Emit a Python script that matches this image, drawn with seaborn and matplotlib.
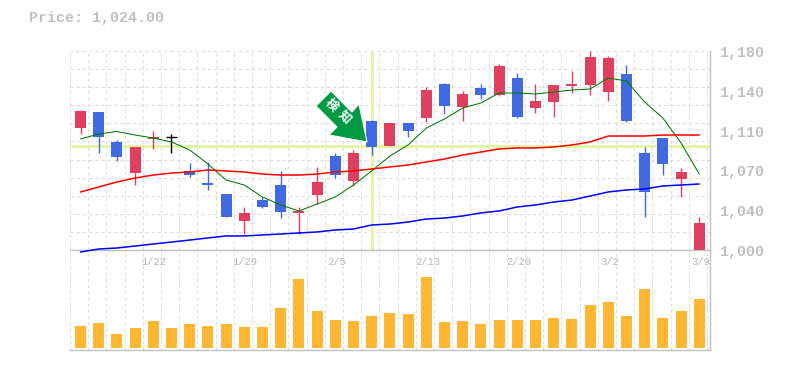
import numpy as np
import pandas as pd
import matplotlib
matplotlib.use('Agg')
import matplotlib.pyplot as plt
import seaborn as sns
from matplotlib.patches import Polygon

# candle values
body_top = [1125.7, 1124.8, 1097.7, 1093.2, 1102.2, 1101.9, 1071.5, 1060.6, 1050.7, 1033.5, 1045.2, 1058.8,
            1035.3, 1061.5, 1085.0, 1087.7, 1116.7, 1114.9, 1114.9, 1144.7, 1150.1, 1141.1, 1146.5, 1166.4,
            1155.6, 1134.8, 1149.2, 1150.1, 1174.6, 1173.7, 1159.2, 1087.7, 1101.3, 1070.6, 1024.0]
body_bot = [1110.3, 1102.2, 1084.1, 1069.6, 1100.4, 1101.3, 1067.8, 1058.8, 1029.8, 1026.2, 1038.9, 1034.4,
            1033.5, 1049.7, 1067.8, 1062.4, 1093.2, 1094.1, 1107.6, 1119.4, 1130.2, 1129.3, 1140.2, 1140.2,
            1120.3, 1128.4, 1133.9, 1148.3, 1149.2, 1142.9, 1116.7, 1052.5, 1077.8, 1064.2, 1000.0]
high = [1126.6, 1124.8, 1099.5, 1093.2, 1107.6, 1104.9, 1078.7, 1079.6, 1050.7, 1038.9, 1047.9, 1071.5,
        1038.9, 1075.1, 1087.7, 1090.5, 1117.6, 1114.9, 1114.9, 1147.4, 1151.1, 1143.8, 1150.1, 1168.2,
        1160.1, 1150.1, 1149.2, 1161.9, 1180.0, 1175.5, 1167.3, 1093.2, 1101.3, 1074.2, 1029.8]
low = [1104.9, 1087.7, 1080.5, 1058.8, 1091.4, 1087.7, 1066.0, 1054.3, 1029.8, 1014.5, 1038.0, 1028.9,
       1014.5, 1041.6, 1065.1, 1057.9, 1085.9, 1094.1, 1102.2, 1115.8, 1123.0, 1116.7, 1136.6, 1139.3,
       1119.4, 1123.9, 1120.3, 1142.0, 1140.2, 1134.8, 1115.8, 1029.8, 1067.8, 1047.9, 1000.0]
kinds = list('rbbrrkbbbrbbrrbrbrbrbrbrbrrrrrbbbrr')

ma_short = [1100.4, 1104.9, 1107.2, 1104.0, 1101.3, 1097.7, 1090.5, 1077.8, 1063.3, 1058.8, 1047.9, 1040.7,
            1035.3, 1041.6, 1047.9, 1058.8, 1071.5, 1085.0, 1095.0, 1110.3, 1118.5, 1128.4, 1133.0, 1142.0,
            1142.0, 1141.1, 1142.9, 1144.7, 1145.6, 1155.6, 1152.9, 1133.9, 1119.4, 1096.8, 1068.7]
ma_mid = [1052.5, 1057.0, 1061.5, 1065.1, 1067.8, 1069.6, 1070.6, 1072.4, 1071.5, 1070.6, 1068.7, 1067.8,
          1067.8, 1068.7, 1070.6, 1071.5, 1073.3, 1075.1, 1076.9, 1079.6, 1082.3, 1085.9, 1088.6, 1091.4,
          1092.3, 1092.3, 1093.2, 1095.0, 1097.7, 1103.1, 1103.1, 1103.1, 1104.0, 1104.0, 1104.0]
ma_long = [998.2, 1000.9, 1001.8, 1003.6, 1005.4, 1007.2, 1009.0, 1010.9, 1012.7, 1012.7, 1013.6, 1014.5,
           1015.4, 1016.3, 1018.1, 1019.0, 1022.6, 1023.5, 1025.3, 1028.0, 1028.9, 1030.8, 1033.5, 1035.3,
           1038.9, 1040.7, 1043.4, 1045.2, 1048.8, 1052.5, 1054.3, 1055.2, 1057.9, 1058.8, 1059.7]
volume = [21.7, 24.7, 13.7, 19.7, 26.7, 19.7, 23.7, 21.7, 23.7, 20.7, 20.7, 39.7, 68.7, 36.7, 27.7, 26.7, 31.7,
          34.7, 33.7, 70.7, 25.7, 26.7, 23.7, 27.7, 27.7, 27.7, 29.7, 28.7, 42.7, 45.7, 31.7, 58.7, 29.7, 36.7, 48.7]

date_pos = [4, 9, 14, 19, 24, 29, 34]
date_labels = ['1/22', '1/29', '2/5', '2/13', '2/20', '3/2', '3/9']
price_ticks = [1000, 1036, 1072, 1108, 1144, 1180]
price_labels = ['1,000', '1,040', '1,070', '1,110', '1,140', '1,180']
cross_idx = 16
cross_price = 1094.1
last_price = '1,024.00'

RED = '#e04060'
BLUE = '#4169e1'
GRAY = '#c0c0c0'
GRID = '#dcdcdc'
colors = {'r': RED, 'b': BLUE, 'k': 'black'}
W, H = 785, 370

sns.set_style('white')
plt.rcParams['font.family'] = ['Liberation Mono', 'Noto Sans CJK JP', 'DejaVu Sans']

fig = plt.figure(figsize=(W / 100, H / 100), dpi=100)
ax = fig.add_axes([70 / W, 1 - 250 / H, 640 / W, 199 / H])
ax2 = fig.add_axes([70 / W, 1 - 350 / H, 640 / W, 100 / H])
ax.set_zorder(2)
ax.patch.set_alpha(0)

x = np.arange(len(kinds))
xlim = (-0.577, 34.59)
df = pd.DataFrame({'x': x, 'short': ma_short, 'mid': ma_mid, 'long': ma_long, 'volume': volume})

# crosshair goes under everything
ax.axhline(cross_price, color='#e4f5a8', lw=2.2, zorder=1.5)
ax.axvline(cross_idx, color='#e4f5a8', lw=2.2, zorder=1.5)

for i, k in enumerate(kinds):
    c = colors[k]
    ax.vlines(i, low[i], high[i], color=c, lw=1.0, zorder=3, snap=True)
    if k == 'k':
        ax.hlines(body_top[i], i - 0.3, i + 0.3, color=c, lw=1.0, zorder=3, snap=True)
    else:
        ax.bar(i, body_top[i] - body_bot[i], bottom=body_bot[i], width=0.6, color=c, lw=0, zorder=3)

sns.lineplot(data=df, x='x', y='short', color='#007a00', lw=0.75, ax=ax, zorder=4, clip_on=False)
sns.lineplot(data=df, x='x', y='mid', color='#ff0000', lw=1.1, ax=ax, zorder=4, clip_on=False)
sns.lineplot(data=df, x='x', y='long', color='#0000ff', lw=1.1, ax=ax, zorder=4, clip_on=False)

ax.set_xlim(xlim)
ax.set_ylim(1000, 1180)
ax.set_xticks(np.arange(len(kinds) + 1) - 0.577)
ax.set_xticklabels([])
ax.set_yticks(np.linspace(1000, 1180, 12))
ax.set_yticklabels([])
ax.grid(True, color=GRID, lw=0.75, ls=(0, (3, 3)))
ax.set_axisbelow(True)
ax.set_xlabel('')
ax.set_ylabel('')
ax.tick_params(length=0)

sns.barplot(data=df, x='x', y='volume', native_scale=True, color='#ffb733', saturation=1, width=0.6,
            linewidth=0, ax=ax2, zorder=3)
ax2.set_xlim(xlim)
ax2.set_ylim(-2, 98)
ax2.set_xticks(np.arange(len(kinds) + 1) - 0.577)
ax2.set_xticklabels([])
ax2.set_yticks([])
ax2.grid(True, axis='x', color=GRID, lw=0.75, ls=(0, (3, 3)))
ax2.set_axisbelow(True)
ax2.set_xlabel('')
ax2.set_ylabel('')
ax2.tick_params(length=0)

for a in (ax, ax2):
    for side in ('top', 'left'):
        a.spines[side].set_visible(False)
    a.spines['right'].set_color(GRAY)
    a.spines['right'].set_linewidth(1.0)
    a.spines['bottom'].set_color(GRAY)
    a.spines['bottom'].set_linewidth(1.0)

# labels sit a bit below their gridline in the original
for p, s in zip(price_ticks, price_labels):
    ax.annotate(s, xy=(1, p), xycoords=ax.get_yaxis_transform(), xytext=(10, -2), textcoords='offset pixels',
                ha='left', va='center', fontsize=10.8, color=GRAY, weight='bold', annotation_clip=False)
for i, s in zip(date_pos, date_labels):
    ax2.annotate(s, xy=(i, 1), xycoords=ax2.get_xaxis_transform(), xytext=(1, -12), textcoords='offset pixels',
                 ha='center', va='center', fontsize=7.6, color='#b8b8b8', annotation_clip=False)

fig.text(29 / W, 1 - 18 / H, 'Price: ' + last_price, fontsize=10.8, color=GRAY, weight='bold', ha='left', va='center')

# signal arrow, drawn in figure pixels (y flipped)
arrow = [(331, 91), (316, 106), (337, 127), (329, 135), (367, 142), (359, 104), (352, 112)]
fig.add_artist(Polygon([(px / W, 1 - py / H) for px, py in arrow], closed=True, transform=fig.transFigure,
                       facecolor='#009944', edgecolor='white', lw=0.8, zorder=6))
fig.text(331.5 / W, 1 - 105 / H, '検', fontsize=9, color='white', rotation=-45, ha='center', va='center',
         weight='bold', zorder=7)
fig.text(344 / W, 1 - 117 / H, '知', fontsize=9, color='white', rotation=-45, ha='center', va='center',
         weight='bold', zorder=7)

fig.savefig('out.png', dpi=100, facecolor='white')
